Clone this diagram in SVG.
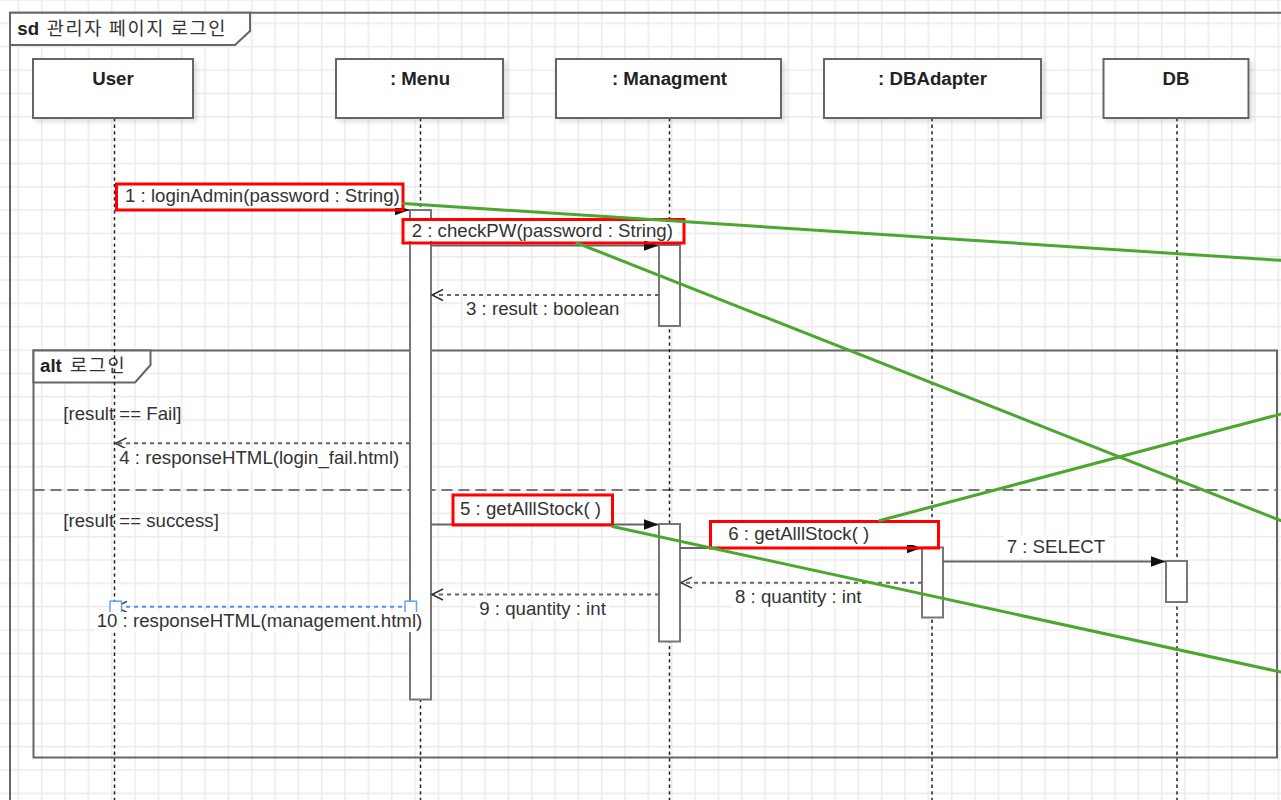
<svg xmlns="http://www.w3.org/2000/svg" width="1281" height="800" viewBox="0 0 1281 800">
<style>
  .t { font-family: "Liberation Sans", "Noto Sans CJK KR", Arial, sans-serif; font-size: 18.67px; fill: #333; }
  .b { font-weight: bold; fill: #222; }
  .ko { font-family: "Noto Sans CJK KR", "Liberation Sans", sans-serif; letter-spacing: 1.6px; fill: #333; }
  .head { fill: #fff; stroke: #666; stroke-width: 2; }
  .life { stroke: #222; stroke-width: 1.5; stroke-dasharray: 3.3 3.3; fill: none; }
  .act { fill: #fff; stroke: #777; stroke-width: 2; }
  .frame { fill: none; stroke: #666; stroke-width: 2; }
  .flabel { fill: #fff; stroke: #666; stroke-width: 2; }
  .msg { stroke: #666; stroke-width: 2; fill: none; }
  .ret { stroke: #666; stroke-width: 2; fill: none; stroke-dasharray: 4 4; }
  .sel { stroke: #5b8ff0; stroke-width: 2; fill: none; stroke-dasharray: 4 4; }
  .lbg { fill: #fff; }
  .red { fill: none; stroke: #ff0000; stroke-width: 3; }
  .green { stroke: #4ca630; stroke-width: 3; fill: none; stroke-linecap: round; }
  .handle { fill: #fff; stroke: #6aa0f0; stroke-width: 1.5; }
</style>
<defs>
  <pattern id="grid" patternUnits="userSpaceOnUse" x="17.6" y="-0.75" width="23.333" height="23.333">
    <rect x="0" y="0" width="1.5" height="23.333" fill="#ebebeb"/>
    <rect x="0" y="0" width="23.333" height="1.5" fill="#ebebeb"/>
  </pattern>
  <filter id="shadow" x="-10%" y="-10%" width="130%" height="140%">
    <feDropShadow dx="3" dy="3" stdDeviation="2" flood-color="#000" flood-opacity="0.12"/>
  </filter>
  <marker id="af" markerUnits="userSpaceOnUse" markerWidth="16" markerHeight="12" refX="15" refY="6" orient="auto">
    <path d="M0,0.5 L15,6 L0,11.5 z" fill="#111"/>
  </marker>
  <marker id="ao" markerUnits="userSpaceOnUse" markerWidth="14" markerHeight="14" refX="12" refY="7" orient="auto">
    <path d="M1,1.5 L12,7 L1,12.5" fill="none" stroke="#333" stroke-width="1.5"/>
  </marker>
</defs>

<rect width="1281" height="800" fill="#fff"/>
<rect id="grid-bg" width="1281" height="800" fill="url(#grid)"/>

<g id="frame-sd">
  <path class="frame" d="M10,800 V12.7 H1290"/>
  <path class="flabel" d="M10,12.7 H250 V31 L235,45 H10 z"/>
  <text class="t" x="17.3" y="35"><tspan class="b">sd</tspan> <tspan class="ko" x="46.7">관리자 페이지 로그인</tspan></text>
</g>

<g id="frame-alt">
  <rect class="frame" x="33.5" y="350.5" width="1243.5" height="407"/>
  <path class="flabel" d="M33.5,350.5 H150.5 V365 L135,382.5 H33.5 z"/>
  <text class="t" x="40" y="372"><tspan class="b">alt</tspan> <tspan class="ko" x="70">로그인</tspan></text>
  <line x1="33.5" y1="490" x2="1277" y2="490" stroke="#777" stroke-width="2" stroke-dasharray="11 6"/>
  <text class="t" x="63.3" y="420">[result == Fail]</text>
  <text class="t" x="63.3" y="527">[result == success]</text>
</g>

<g id="User">
  <line class="life" x1="114.5" y1="118" x2="114.5" y2="800"/>
  <rect class="head" x="33" y="59" width="160" height="59" filter="url(#shadow)"/>
  <text class="t b" x="113" y="85" text-anchor="middle">User</text>
</g>

<g id="Menu">
  <line class="life" x1="420.5" y1="118" x2="420.5" y2="800"/>
  <rect class="head" x="336" y="59" width="167" height="59" filter="url(#shadow)"/>
  <text class="t b" x="420" y="85" text-anchor="middle">: Menu</text>
  <rect class="act" x="410" y="210" width="21" height="489.5"/>
</g>

<g id="Managment">
  <line class="life" x1="669.5" y1="118" x2="669.5" y2="800"/>
  <rect class="head" x="556" y="59" width="225" height="59" filter="url(#shadow)"/>
  <text class="t b" x="669.5" y="85" text-anchor="middle">: Managment</text>
  <rect class="act" x="659" y="245" width="21" height="81"/>
  <rect class="act" x="659" y="524" width="21" height="117.5"/>
</g>

<g id="DBAdapter">
  <line class="life" x1="932" y1="118" x2="932" y2="800"/>
  <rect class="head" x="824" y="59" width="217" height="59" filter="url(#shadow)"/>
  <text class="t b" x="932.5" y="85" text-anchor="middle">: DBAdapter</text>
  <rect class="act" x="922" y="547.5" width="21" height="70"/>
</g>

<g id="DB">
  <line class="life" x1="1177" y1="118" x2="1177" y2="800"/>
  <rect class="head" x="1103.5" y="59" width="145" height="59" filter="url(#shadow)"/>
  <text class="t b" x="1176" y="85" text-anchor="middle">DB</text>
  <rect class="act" x="1166" y="561" width="21" height="41"/>
</g>

<g id="connectors">
  <line class="msg" x1="114.5" y1="210" x2="409.5" y2="210" marker-end="url(#af)"/>
  <line class="msg" x1="431" y1="245.5" x2="658.5" y2="245.5" marker-end="url(#af)"/>
  <line class="ret" x1="659" y1="295" x2="432" y2="295" marker-end="url(#ao)"/>
  <line class="ret" x1="410" y1="443.3" x2="115.5" y2="443.3" marker-end="url(#ao)"/>
  <line class="msg" x1="431" y1="524.5" x2="658.5" y2="524.5" marker-end="url(#af)"/>
  <line class="msg" x1="680" y1="548" x2="921.5" y2="548" marker-end="url(#af)"/>
  <line class="msg" x1="943" y1="561.5" x2="1165.5" y2="561.5" marker-end="url(#af)"/>
  <line class="ret" x1="922" y1="582.7" x2="681" y2="582.7" marker-end="url(#ao)"/>
  <line class="ret" x1="659" y1="594.5" x2="432" y2="594.5" marker-end="url(#ao)"/>
  <line class="sel" x1="410" y1="606.8" x2="116" y2="606.8" marker-end="url(#ao)"/>
  <rect class="handle" x="110" y="601.2" width="11.5" height="11.5"/>
  <rect class="handle" x="405" y="601.2" width="11.5" height="11.5"/>

  <rect class="lbg" x="123" y="186" width="279" height="22"/>
  <text class="t" x="125" y="202">1 : loginAdmin(password : String)</text>
  <rect class="lbg" x="409" y="221" width="268" height="20"/>
  <text class="t" x="411.7" y="237">2 : checkPW(password : String)</text>
  <rect class="lbg" x="463" y="299" width="160" height="21"/>
  <text class="t" x="466" y="315">3 : result : boolean</text>
  <rect class="lbg" x="117" y="448" width="285" height="21"/>
  <text class="t" x="119.3" y="464">4 : responseHTML(login_fail.html)</text>
  <rect class="lbg" x="456" y="497" width="154" height="26"/>
  <text class="t" x="460" y="515">5 : getAlllStock( )</text>
  <rect class="lbg" x="713" y="523" width="223" height="22"/>
  <text class="t" x="728.3" y="540">6 : getAlllStock( )</text>
  <rect class="lbg" x="1004" y="536" width="104" height="21"/>
  <text class="t" x="1006.7" y="552.7">7 : SELECT</text>
  <rect class="lbg" x="732" y="587" width="133" height="21"/>
  <text class="t" x="735" y="603.3">8 : quantity : int</text>
  <rect class="lbg" x="476" y="599" width="133" height="21"/>
  <text class="t" x="479.3" y="615">9 : quantity : int</text>
  <rect class="lbg" x="95" y="612" width="335" height="20"/>
  <text class="t" x="96.7" y="627">10 : responseHTML(management.html)</text>
</g>

<g id="annotations">
  <rect class="red" x="116.5" y="184" width="286.5" height="26"/>
  <rect class="red" x="403" y="219.5" width="281" height="23.5"/>
  <rect class="red" x="453" y="495" width="159.5" height="30"/>
  <rect class="red" x="710.5" y="521.5" width="228" height="26.5"/>
  <line class="green" x1="403.5" y1="203.5" x2="1283" y2="260.5"/>
  <line class="green" x1="577" y1="243" x2="1283" y2="521.5"/>
  <line class="green" x1="880" y1="520.5" x2="1283" y2="413.5"/>
  <line class="green" x1="612.5" y1="526.5" x2="1283" y2="672.5"/>
</g>
</svg>
